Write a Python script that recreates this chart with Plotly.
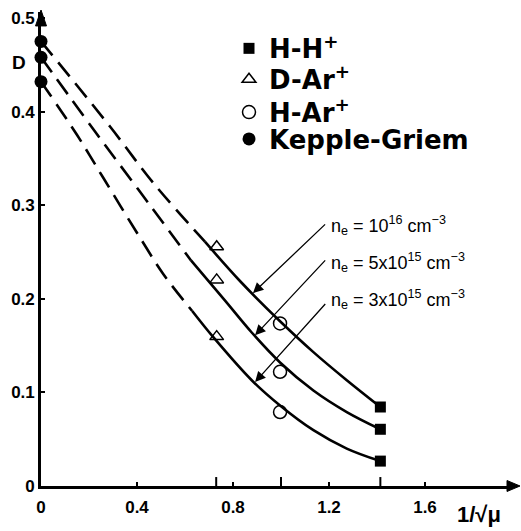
import plotly.graph_objects as go

# ---------------- data ----------------
# measured points  (x = 1/sqrt(mu), y = D)
hh_x = [1.414, 1.414, 1.414]
hh_y = [0.0844, 0.0606, 0.0266]
dar_x = [0.732, 0.732, 0.732]
dar_y = [0.2556, 0.2202, 0.1596]
har_x = [0.996, 0.996, 0.996]
har_y = [0.1737, 0.122, 0.079]
kg_x = [0, 0, 0]
kg_y = [0.475, 0.458, 0.432]

series_names = ["H-H<sup>+</sup>", "D-Ar<sup>+</sup>", "H-Ar<sup>+</sup>", "Kepple-Griem"]

# curves (dashed extrapolation + solid part)
top_dash_x = [0, 0.2875, 0.468, 0.683]
top_dash_y = [0.475, 0.384, 0.3237, 0.261]
top_solid_x = [0.683, 0.829, 0.996, 1.135, 1.274, 1.414]
top_solid_y = [0.261, 0.219, 0.176, 0.143, 0.113, 0.0844]

mid_dash_x = [0, 0.225, 0.4056, 0.625]
mid_dash_y = [0.458, 0.3787, 0.3167, 0.241]
mid_solid_x = [0.625, 0.767, 0.878, 0.996, 1.135, 1.274, 1.414]
mid_solid_y = [0.241, 0.198, 0.164, 0.132, 0.102, 0.079, 0.0606]

bot_dash_x = [0, 0.149, 0.26, 0.4125, 0.51, 0.63]
bot_dash_y = [0.432, 0.3755, 0.329, 0.2653, 0.2263, 0.187]
bot_solid_x = [0.63, 0.718, 0.878, 0.996, 1.135, 1.274, 1.414]
bot_solid_y = [0.187, 0.159, 0.113, 0.086, 0.0596, 0.040, 0.0266]

# density labels and their arrows
label_texts = ["n<sub>e</sub> = 10<sup>16</sup> cm<sup>−3</sup>",
               "n<sub>e</sub> = 5x10<sup>15</sup> cm<sup>−3</sup>",
               "n<sub>e</sub> = 3x10<sup>15</sup> cm<sup>−3</sup>"]
label_x = [1.20, 1.20, 1.20]
label_y = [0.278, 0.239, 0.199]
arrow_tip_x = [0.883, 0.892, 0.892]
arrow_tip_y = [0.206, 0.161, 0.111]
arrow_tail_x = [1.19, 1.19, 1.19]
arrow_tail_y = [0.281, 0.2426, 0.196]

special_ticks = [0.73, 1.0, 1.414]
x_ticks = [0, 0.4, 0.8, 1.2, 1.6]
y_ticks = [0, 0.1, 0.2, 0.3, 0.4, 0.5]

# ---------------- figure ----------------
W, H = 521, 531
ML, MR, MT, MB = 41, 9, 10, 45
XPX, YPX = 240.0, 940.0  # pixels per unit
x_max = (W - ML - MR) / XPX
y_max = (H - MT - MB) / YPX
pw, ph = W - ML - MR, H - MT - MB

fig = go.Figure()
LW = 2.6
for xs, ys in [(top_dash_x, top_dash_y), (mid_dash_x, mid_dash_y), (bot_dash_x, bot_dash_y)]:
    fig.add_trace(go.Scatter(x=xs, y=ys, mode="lines", line=dict(color="black", width=LW, dash="18px,9px", shape="spline"),
                             showlegend=False, hoverinfo="skip"))
for xs, ys in [(top_solid_x, top_solid_y), (mid_solid_x, mid_solid_y), (bot_solid_x, bot_solid_y)]:
    fig.add_trace(go.Scatter(x=xs, y=ys, mode="lines", line=dict(color="black", width=LW, shape="spline"),
                             showlegend=False, hoverinfo="skip"))

fig.add_trace(go.Scatter(x=hh_x, y=hh_y, mode="markers", name=series_names[0], legend="legend",
                         marker=dict(symbol="square", size=11, color="black"), cliponaxis=False))
fig.add_trace(go.Scatter(x=dar_x, y=dar_y, mode="markers", name=series_names[1], legend="legend2",
                         marker=dict(symbol="triangle-up-open", size=12, color="black", line=dict(width=1.5))))
fig.add_trace(go.Scatter(x=har_x, y=har_y, mode="markers", name=series_names[2], legend="legend3",
                         marker=dict(symbol="circle-open", size=13, color="black", line=dict(width=1.5))))
fig.add_trace(go.Scatter(x=kg_x, y=kg_y, mode="markers", name=series_names[3], legend="legend4",
                         marker=dict(symbol="circle", size=13, color="black"), cliponaxis=False))

annotations = []
for t, lx, ly in zip(label_texts, label_x, label_y):
    annotations.append(dict(x=lx, y=ly, xref="x", yref="y", text=t, showarrow=False, xanchor="left", yanchor="middle",
                            font=dict(family="Liberation Sans", size=18, color="black")))
for tx, ty, ax, ay in zip(arrow_tip_x, arrow_tip_y, arrow_tail_x, arrow_tail_y):
    annotations.append(dict(x=tx, y=ty, xref="x", yref="y", ax=ax, ay=ay, axref="x", ayref="y", text="",
                            showarrow=True, arrowhead=2, arrowsize=1.6, arrowwidth=1.3, arrowcolor="black"))
annotations.append(dict(x=(19 - ML) / pw, y=(H - MB - 61) / ph, xref="paper", yref="paper", text="<b>D</b>",
                        xanchor="center", yanchor="middle",
                        showarrow=False, font=dict(family="Liberation Sans", size=19, color="black")))
annotations.append(dict(x=(479 - ML) / pw, y=(H - MB - 515) / ph, xref="paper", yref="paper", text="<b>1/√μ</b>",
                        xanchor="center", yanchor="middle",
                        showarrow=False, font=dict(family="Liberation Sans", size=22, color="black")))

shapes = []
for v in special_ticks:
    shapes.append(dict(type="line", xref="x", yref="y", x0=v, x1=v, y0=0, y1=9 / YPX, line=dict(color="black", width=2)))
# axis arrowheads (paper coords)
shapes.append(dict(type="path", xref="paper", yref="paper",
                   path=f"M {(W - ML - 1) / pw},0 L {(W - ML - 14) / pw},{5.5 / ph} L {(W - ML - 14) / pw},{-5.5 / ph} Z",
                   fillcolor="black", line=dict(color="black", width=1)))
shapes.append(dict(type="path", xref="paper", yref="paper",
                   path=f"M 0,{(H - MB - 8) / ph} L {5.5 / pw},{(H - MB - 24) / ph} L {-5.5 / pw},{(H - MB - 24) / ph} Z",
                   fillcolor="black", line=dict(color="black", width=1)))

axis_common = dict(showgrid=False, zeroline=False, showline=True, linecolor="black", linewidth=2.6,
                   ticks="inside", tickcolor="black", tickwidth=2, ticklen=4,
                   tickfont=dict(family="Liberation Sans", size=17, color="black", weight="bold"))

legend_font = dict(family="DejaVu Sans", size=26, color="black", weight="bold")
legend_tops = [23, 54, 87, 114]  # pixel tops of the four legend rows
legends = {}
for i, top in enumerate(legend_tops):
    key = "legend" if i == 0 else f"legend{i + 1}"
    legends[key] = dict(x=(229 - ML) / pw, y=(H - MB - top) / ph, xanchor="left", yanchor="top",
                        bgcolor="rgba(0,0,0,0)", font=legend_font, itemwidth=30)

fig.update_layout(
    width=W, height=H,
    margin=dict(l=ML, r=MR, t=MT, b=MB),
    paper_bgcolor="white", plot_bgcolor="white",
    xaxis=dict(range=[0, x_max], tickmode="array", tickvals=x_ticks, ticktext=["0", "0.4", "0.8", "1.2", "1.6"],
               ticklabelstandoff=4, **axis_common),
    yaxis=dict(range=[0, y_max], tickmode="array", tickvals=y_ticks, ticktext=["0", "0.1", "0.2", "0.3", "0.4", "0.5"],
               **axis_common),
    annotations=annotations, shapes=shapes,
    **legends,
)
fig.write_html("out.html")
